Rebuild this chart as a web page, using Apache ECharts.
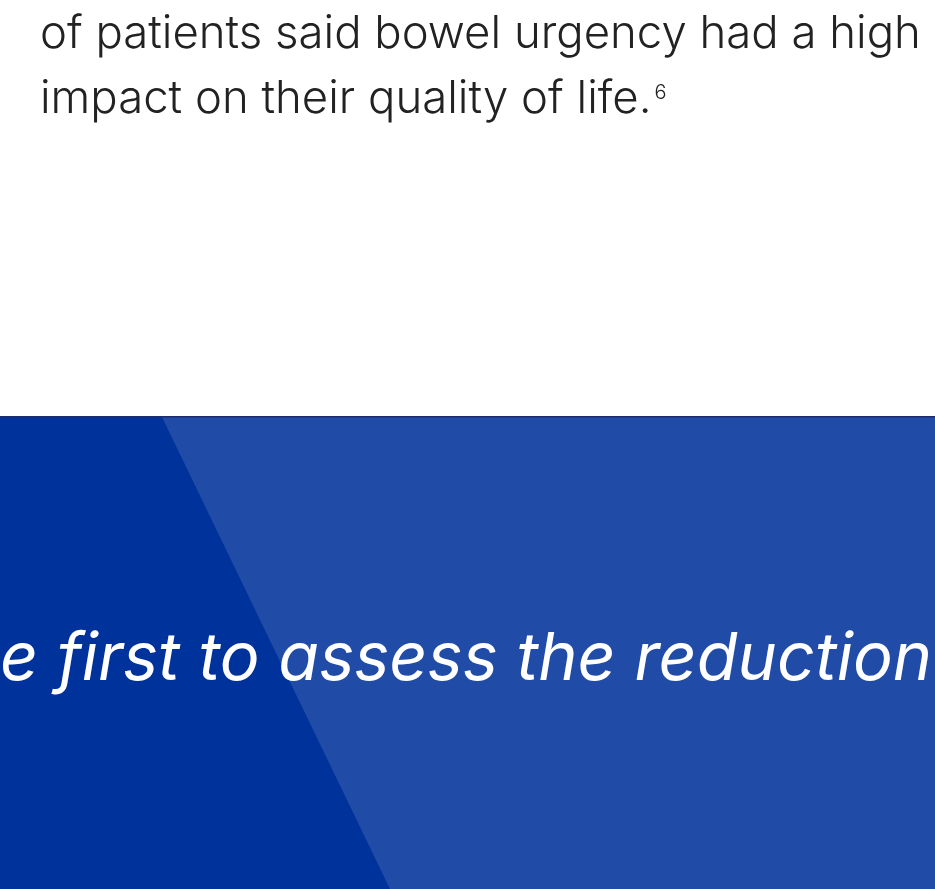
<!DOCTYPE html>
<html>
<head>
<meta charset="utf-8">
<script src="https://cdn.jsdelivr.net/npm/echarts@6/dist/echarts.min.js"></script>
<style>
  html, body { margin: 0; padding: 0; background: #fff; }
  #main { width: 935px; height: 889px; }
</style>
</head>
<body>
<div id="main"></div>
<script>
// text content
var introLines = ['of patients said bowel urgency had a high', 'impact on their quality of life.']
var footnote = '6'
var bannerText = 'e first to assess the reduction'

// colours
var textColor = '#222222'
var bannerDark = '#00329c'
var bannerLight = '#204ca8'

var chart = echarts.init(document.getElementById('main'))
chart.setOption({
  backgroundColor: '#ffffff',
  graphic: [
    // banner background
    {
      type: 'rect',
      shape: { x: 0, y: 417, width: 935, height: 472 },
      style: { fill: bannerLight }
    },
    {
      type: 'polygon',
      shape: { points: [[0, 417], [162, 417], [390, 889], [0, 889]] },
      style: { fill: bannerDark }
    },
    {
      type: 'rect',
      shape: { x: 0, y: 416, width: 935, height: 1.5 },
      style: { fill: '#1d2d6b' }
    },
    // intro text
    {
      type: 'text',
      left: 40, top: 11,
      style: { text: introLines[0], fill: textColor, font: '300 45.5px Inter' }
    },
    {
      type: 'text',
      left: 40, top: 76,
      style: {
        text: '{m|' + introLines[1] + '}{s|' + footnote + '}',
        rich: {
          m: { fill: textColor, font: '300 45.5px Inter' },
          s: { fill: textColor, font: '300 20px Inter', verticalAlign: 'top', padding: [7, 0, 0, 3] }
        }
      }
    },
    // banner text
    {
      type: 'text',
      left: 0, top: 626,
      style: { text: bannerText, fill: '#ffffff', font: 'italic 66.5px Inter' }
    }
  ]
})
</script>
</body>
</html>
